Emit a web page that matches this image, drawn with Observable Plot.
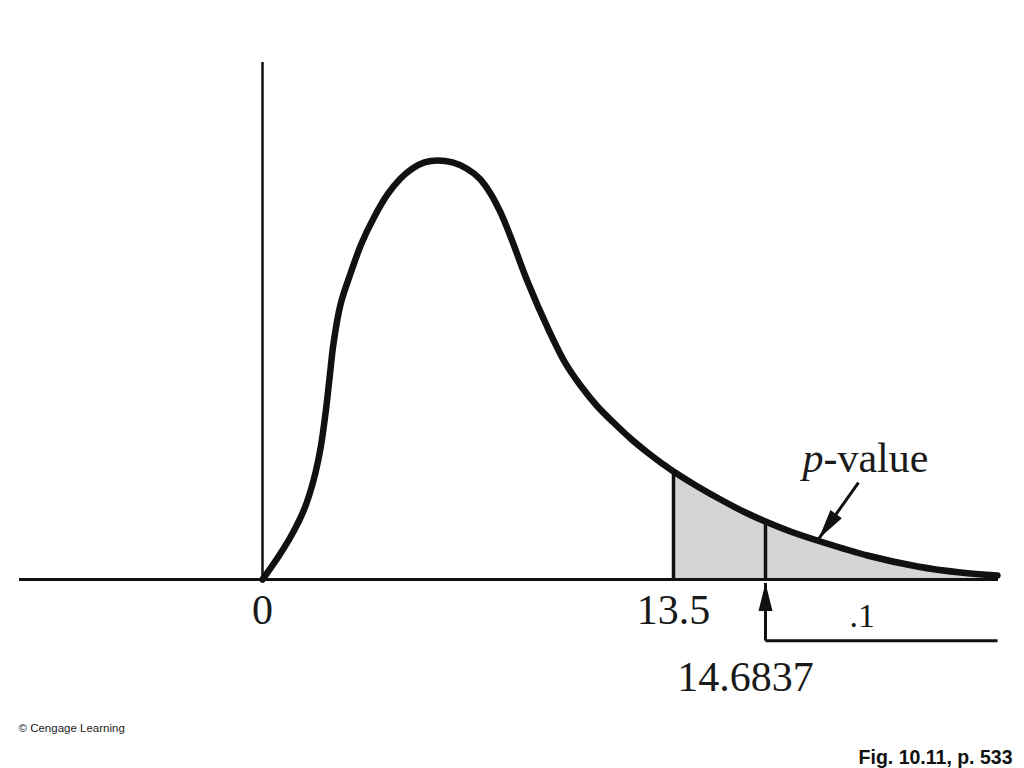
<!DOCTYPE html>
<html>
<head>
<meta charset="utf-8">
<script src="https://cdn.jsdelivr.net/npm/d3@7"></script>
<script src="https://cdn.jsdelivr.net/npm/@observablehq/plot@0.6"></script>
<style>
  html, body { margin: 0; padding: 0; background: #fff; }
  #chart { width: 1024px; height: 768px; }
  g[aria-label="number-labels"] text { letter-spacing: -2px; }
</style>
</head>
<body>
<div id="chart"></div>
<script>
// Density curve
const curveX = [0, 0.526, 0.985, 1.380, 1.675, 1.905, 2.069, 2.201, 2.332, 2.562, 2.891, 3.252, 3.679, 4.106, 4.533, 4.927, 5.321, 5.748, 6.241, 6.701, 7.128, 7.489, 7.818, 8.146, 8.705, 9.361, 9.953, 10.445, 11.004, 11.529, 12.088, 12.646, 13.172, 13.5, 13.809, 14.105, 14.426, 14.6837, 15.005, 15.391, 15.996, 16.639, 17.192, 17.668];
const curveY = [0, 0.00534, 0.01068, 0.01648, 0.02298, 0.03041, 0.03853, 0.04666, 0.05478, 0.06383, 0.07103, 0.07800, 0.08426, 0.08937, 0.09308, 0.09540, 0.09680, 0.09726, 0.09680, 0.09540, 0.09308, 0.08960, 0.08519, 0.07962, 0.06917, 0.05850, 0.05014, 0.04503, 0.04016, 0.03644, 0.03273, 0.02948, 0.02669, 0.02507, 0.02159, 0.01857, 0.01555, 0.01346, 0.01114, 0.00882, 0.00557, 0.00302, 0.00162, 0.00093];

// Axis labels
const tickValues = [0, 13.5];
const tickLabels = ["0", "13.5"];
const testStatistic = 13.5;
const criticalValue = 14.6837;
const criticalLabel = "14.6837";
const alphaLabel = ".1";
const alphaX = 15.93;
const pLabelItalic = "p";
const pLabelRest = "-value";
const pLabelX = 15.43;
const pLabelY = 0.0280;
const pArrowFrom = [15.88, 0.0225];
const pArrowTo = [15.37, 0.0095];
const bracketY = -0.0142;
const bracketEnd = 17.67;
const criticalArrowTip = -0.0008;
const credit = "© Cengage Learning";
const figLabel = "Fig. 10.11, p. 533";

// Schematic (non-uniform) horizontal axis of the textbook figure
const xBreaks = [-8, 0, 13.5, 14.6837, 17.682];
const xPixels = [19, 262, 673, 765, 998];
const yDomain = [0, 0.12];
const yPixels = [579, 62];

const curve = curveX.map((x, i) => ({x, y: curveY[i]}));
const tail = curve.filter(d => d.x >= testStatistic);
const cuts = curve.filter(d => d.x === testStatistic || d.x === criticalValue);

const xs = d3.scaleLinear().domain(xBreaks).range(xPixels);
const ys = d3.scaleLinear().domain(yDomain).range(yPixels);
const ang = Math.atan2(xs(pArrowTo[0]) - xs(pArrowFrom[0]), -(ys(pArrowTo[1]) - ys(pArrowFrom[1]))) * 180 / Math.PI;

const ink = "#111";
const serif = "Liberation Serif, Times New Roman, serif";

const chart = Plot.plot({
  width: 1024,
  height: 768,
  margin: 0,
  x: {type: "linear", domain: xBreaks, range: xPixels, axis: null},
  y: {type: "linear", domain: yDomain, range: yPixels, axis: null},
  style: {background: "#fff"},
  marks: [
    Plot.areaY(tail, {x: "x", y: "y", fill: "#d3d5d7", curve: "catmull-rom"}),
    Plot.ruleY([0], {x1: xBreaks[0], x2: xBreaks[xBreaks.length - 1], stroke: ink, strokeWidth: 3}),
    Plot.ruleX([0], {y1: 0, y2: yDomain[1], stroke: ink, strokeWidth: 2.5}),
    Plot.ruleX(cuts, {x: "x", y1: 0, y2: "y", stroke: ink, strokeWidth: 3.5}),
    Plot.line(curve, {x: "x", y: "y", stroke: ink, strokeWidth: 6.5, curve: "catmull-rom", strokeLinecap: "round", strokeLinejoin: "round"}),
    // p-value arrow
    Plot.link([0], {x1: pArrowFrom[0], y1: pArrowFrom[1], x2: pArrowTo[0], y2: pArrowTo[1], stroke: ink, strokeWidth: 3}),
    Plot.vector([0], {x: pArrowTo[0], y: pArrowTo[1], length: 30, rotate: ang, shape: "spike", r: 7, anchor: "end", fill: ink, stroke: "none"}),
    // critical value arrow and bracket
    Plot.link([0], {x1: criticalValue, y1: bracketY, x2: criticalValue, y2: criticalArrowTip, stroke: ink, strokeWidth: 3}),
    Plot.vector([0], {x: criticalValue, y: criticalArrowTip, length: 28, rotate: 0, shape: "spike", r: 7, anchor: "end", fill: ink, stroke: "none"}),
    Plot.link([0], {x1: criticalValue, y1: bracketY, x2: bracketEnd, y2: bracketY, stroke: ink, strokeWidth: 3}),
    // labels
    Plot.text(tickValues, {x: d => d, y: 0, text: (d, i) => tickLabels[i], dy: 31, fontSize: 42, fontFamily: serif, fill: "#1a1a1a", ariaLabel: "number-labels"}),
    Plot.text([criticalLabel], {x: criticalValue, y: 0, dx: -20, dy: 98, fontSize: 42, fontFamily: serif, fill: "#1a1a1a", ariaLabel: "number-labels"}),
    Plot.text([alphaLabel], {x: alphaX, y: 0, dy: 37, fontSize: 34, fontFamily: serif, fill: "#1a1a1a"}),
    Plot.text([pLabelItalic], {x: pLabelX, y: pLabelY, textAnchor: "end", fontSize: 42, fontStyle: "italic", fontFamily: serif, fill: "#1a1a1a"}),
    Plot.text([pLabelRest], {x: pLabelX, y: pLabelY, textAnchor: "start", fontSize: 42, fontFamily: serif, fill: "#1a1a1a"}),
    Plot.text([credit], {frameAnchor: "top-left", textAnchor: "start", dx: 18, dy: 723, fontSize: 11.5, fontFamily: "Liberation Sans, Arial, sans-serif", fill: "#222"}),
    Plot.text([figLabel], {frameAnchor: "top-right", textAnchor: "end", dx: -12, dy: 750, fontSize: 19.5, fontWeight: "bold", fontFamily: "Liberation Sans, Arial, sans-serif", fill: "#111"})
  ]
});
document.getElementById("chart").appendChild(chart);
</script>
</body>
</html>
